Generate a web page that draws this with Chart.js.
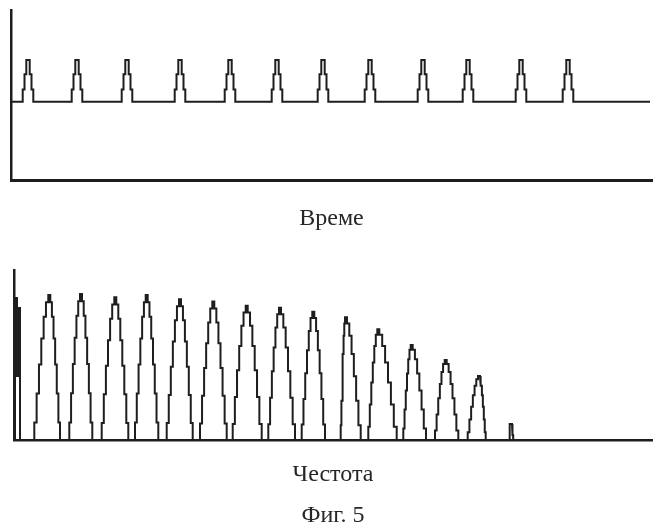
<!DOCTYPE html>
<html>
<head>
<meta charset="utf-8">
<script src="https://cdn.jsdelivr.net/npm/chart.js@4/dist/chart.umd.min.js"></script>
<style>
  body { margin: 0; background: #fff; }
  #wrap { position: relative; width: 656px; height: 528px; }
  canvas { position: absolute; left: 0; }
  #timeChart { top: 0; }
  #freqChart { top: 250px; }
</style>
</head>
<body>
<div id="wrap">
  <canvas id="timeChart" width="656" height="240"></canvas>
  <canvas id="freqChart" width="656" height="278"></canvas>
</div>
<script>
// ===== DATA: time signal (pulse train) =====
const timeLabel = "Време";
const pulseCenters = [17, 66, 116, 169, 219, 266, 312, 359, 412, 457, 510, 557];
const pulseAmps = [1, 1, 1, 1, 1, 1, 1, 1, 1, 1, 1, 1];
const timeEnd = 639;

// ===== DATA: spectrum =====
const freqLabel = "Честота";
const figLabel = "Фиг. 5";
const peakLeft = [20.3, 55.3, 87.7, 121, 152.7, 186, 218.7, 254.3, 287.7, 326.7, 354.3, 389.3, 421, 453.7, 495.3];
const peakTop = [35.3, 67, 101.3, 132.7, 166, 199.3, 232.7, 266, 299.3, 332, 364.3, 397.7, 431.7, 465, 497];
const peakRight = [46, 78.3, 114.3, 144.3, 178.7, 212.7, 247.7, 281, 311, 346.7, 382.7, 412, 444.3, 471.7, 499.3];
const peakAmps = [85.3, 85.9, 83.9, 85.3, 82.8, 81.4, 79.0, 77.8, 75.5, 72.2, 65.1, 55.9, 47.1, 37.6, 9.4];
const dcFreqs = [1, 3, 6];
const dcAmps = [83.5, 77.6];
const freqEnd = 638;

// ===== SHAPE OF THE STAIRCASE FLANKS =====
const pulseStairs = [0.29, 0.66, 1];
const peakStairs = [0.12, 0.32, 0.52, 0.7, 0.85, 0.95, 1];

const ink = "#1e1e1e";
const serif = "'Liberation Serif', 'DejaVu Serif', serif";

function peakPoints(left, top, right, amp, stairs, halfTop) {
    const pts = [];
    const n = stairs.length;
    let level = 0;
    stairs.forEach((s, k) => {
        const x = left + (top - halfTop - left) * k / (n - 1);
        pts.push({ x, y: level * amp }, { x, y: s * amp });
        level = s;
    });
    for (let k = n - 1; k >= 0; k--) {
        const x = right - (right - top - halfTop) * k / (n - 1);
        const lower = k > 0 ? stairs[k - 1] : 0;
        pts.push({ x, y: stairs[k] * amp }, { x, y: lower * amp });
    }
    return pts;
}

// ===== BUILD SERIES =====
let timePoints = [{ x: 0, y: 0 }];
pulseCenters.forEach((c, i) => {
    timePoints = timePoints.concat(peakPoints(c - 5.3, c, c + 5.3, pulseAmps[i], pulseStairs, 1.7));
});
timePoints.push({ x: timeEnd, y: 0 });

let freqPoints = [{ x: dcFreqs[2], y: 0 }];
peakTop.forEach((t, i) => {
    freqPoints = freqPoints.concat(peakPoints(peakLeft[i], t, peakRight[i], peakAmps[i], peakStairs, 1));
});
freqPoints.push({ x: freqEnd, y: 0 });

const dcPoints = [
    { x: dcFreqs[0], y: 0 },
    { x: dcFreqs[0], y: dcAmps[0] },
    { x: dcFreqs[1], y: dcAmps[0] },
    { x: dcFreqs[1], y: dcAmps[1] },
    { x: dcFreqs[2], y: dcAmps[1] },
    { x: dcFreqs[2], y: 0 }
];

// ===== COMMON OPTIONS =====
function axis(extra, borderWidth) {
    return Object.assign({
        type: "linear",
        grid: { display: false, drawTicks: false },
        ticks: { display: false },
        border: { display: true, color: ink, width: borderWidth }
    }, extra);
}

function axisTitle(text, padTop) {
    return {
        display: true,
        text: text,
        color: "#262626",
        font: { family: serif, size: 24, lineHeight: 1 },
        padding: { top: padTop, bottom: 0 }
    };
}

const baseOptions = {
    responsive: false,
    animation: false,
    events: [],
    elements: { point: { radius: 0 }, line: { tension: 0, borderJoinStyle: "miter" } }
};

// ===== TIME CHART =====
new Chart(document.getElementById("timeChart"), {
    type: "line",
    data: {
        datasets: [{
            data: timePoints,
            borderColor: ink,
            borderWidth: 2,
            fill: false
        }]
    },
    options: Object.assign({}, baseOptions, {
        layout: { padding: { top: 10, left: 11, right: 4, bottom: 9 } },
        plugins: { legend: { display: false }, tooltip: { enabled: false } },
        scales: {
            x: axis({ min: 0, max: 641, title: axisTitle(timeLabel, 27) }, 3),
            y: axis({ min: -1.88, max: 2.2 }, 2.5)
        }
    })
});

// ===== FREQUENCY CHART =====
new Chart(document.getElementById("freqChart"), {
    type: "line",
    data: {
        datasets: [{
            data: freqPoints,
            borderColor: ink,
            borderWidth: 2,
            fill: false
        }, {
            data: dcPoints,
            borderColor: ink,
            borderWidth: 2,
            backgroundColor: ink,
            fill: { value: 37 }
        }]
    },
    options: Object.assign({}, baseOptions, {
        layout: { padding: { top: 20, left: 14, right: 4, bottom: 0 } },
        plugins: {
            legend: { display: false },
            tooltip: { enabled: false },
            title: {
                display: true,
                position: "bottom",
                text: figLabel,
                color: "#262626",
                font: { family: serif, size: 24, weight: "normal", lineHeight: 1 },
                padding: { top: 17.6, bottom: 0 }
            }
        },
        scales: {
            x: axis({ min: 0, max: 638, title: axisTitle(freqLabel, 22.4) }, 2.5),
            y: axis({ min: 0, max: 100 }, 2.5)
        }
    })
});
</script>
</body>
</html>
